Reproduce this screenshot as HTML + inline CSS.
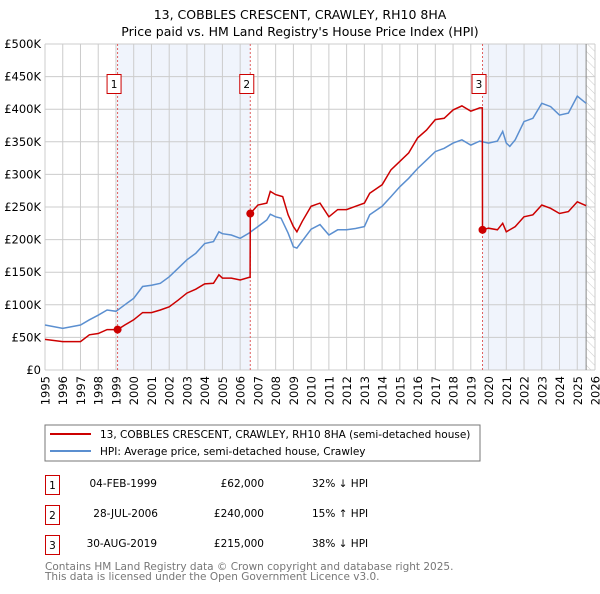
<!DOCTYPE html>
<html><head><meta charset="utf-8"><style>
body{margin:0;background:#fff;width:600px;height:590px;overflow:hidden;font-family:"DejaVu Sans","Liberation Sans",sans-serif}
svg text{font-family:"DejaVu Sans","Liberation Sans",sans-serif}
</style></head><body>
<svg id="chart" width="600" height="590" xmlns="http://www.w3.org/2000/svg">
<text x="300" y="19" text-anchor="middle" font-size="12.5">13, COBBLES CRESCENT, CRAWLEY, RH10 8HA</text>
<text x="300" y="36" text-anchor="middle" font-size="12.5">Price paid vs. HM Land Registry's House Price Index (HPI)</text>
<g id="plot"></g>
<g>
<rect x="45" y="425" width="435" height="36" fill="#fff" stroke="#777"/>
<line x1="50" y1="434" x2="91" y2="434" stroke="#cc0000" stroke-width="2"/>
<text x="100" y="438" font-size="10.5">13, COBBLES CRESCENT, CRAWLEY, RH10 8HA (semi-detached house)</text>
<line x1="50" y1="451" x2="91" y2="451" stroke="#5b8fd0" stroke-width="2"/>
<text x="100" y="455" font-size="10.5">HPI: Average price, semi-detached house, Crawley</text>
</g>
<g font-size="10.5">
<rect x="45.5" y="475.5" width="14" height="19" fill="#fff" stroke="#cc0000"/><text x="52.5" y="489" text-anchor="middle">1</text>
<text x="157" y="487" text-anchor="end">04-FEB-1999</text><text x="264" y="487" text-anchor="end">£62,000</text><text x="312" y="487">32% ↓ HPI</text>
<rect x="45.5" y="505.5" width="14" height="19" fill="#fff" stroke="#cc0000"/><text x="52.5" y="519" text-anchor="middle">2</text>
<text x="158" y="517" text-anchor="end">28-JUL-2006</text><text x="264" y="517" text-anchor="end">£240,000</text><text x="312" y="517">15% ↑ HPI</text>
<rect x="45.5" y="535.5" width="14" height="19" fill="#fff" stroke="#cc0000"/><text x="52.5" y="549" text-anchor="middle">3</text>
<text x="157" y="547" text-anchor="end">30-AUG-2019</text><text x="264" y="547" text-anchor="end">£215,000</text><text x="312" y="547">38% ↓ HPI</text>
</g>
<text x="45" y="570" font-size="10.5" fill="#777">Contains HM Land Registry data © Crown copyright and database right 2025.</text>
<text x="45" y="580" font-size="10.5" fill="#777">This data is licensed under the Open Government Licence v3.0.</text>
</svg>
<script>
const hpiYears=[1995,1996,1997,1997.5,1998,1998.5,1999,1999.5,2000,2000.5,2001,2001.5,2002,2002.5,2003,2003.5,2004,2004.5,2004.8,2005,2005.5,2006,2006.5,2007,2007.5,2007.7,2008,2008.3,2008.7,2009,2009.2,2010,2010.5,2011,2011.5,2012,2012.5,2013,2013.3,2014,2014.5,2015,2015.5,2016,2016.5,2017,2017.5,2018,2018.5,2019,2019.5,2020,2020.5,2020.8,2021,2021.2,2021.5,2022,2022.5,2023,2023.5,2024,2024.5,2025,2025.5];
const hpiValues=[69,64,69,77,84,92,90,100,110,128,130,133,143,156,169,179,194,197,212,209,207,202,210,220,230,239,235,233,210,189,187,216,223,207,215,215,217,220,238,251,266,281,294,309,322,335,340,348,353,345,351,348,351,366,348,343,353,381,386,409,404,391,394,420,409];
const priceYears=[1995,1996,1997,1997.5,1998,1998.5,1999.09,1999.5,2000,2000.5,2001,2001.5,2002,2002.5,2003,2003.5,2004,2004.5,2004.8,2005,2005.5,2006,2006.5,2006.56,2006.57,2007,2007.5,2007.7,2008,2008.4,2008.7,2009,2009.2,2009.5,2010,2010.5,2011,2011.5,2012,2012.5,2013,2013.3,2014,2014.5,2015,2015.5,2016,2016.5,2017,2017.5,2018,2018.5,2019,2019.5,2019.65,2019.66,2020,2020.5,2020.8,2021,2021.5,2022,2022.5,2023,2023.5,2024,2024.5,2025,2025.5];
const priceValues=[47,43.5,43.5,54,56,62,62,69,77,88,88,92,97,107,118,124,132,133,146,141,141,138,142,142,240,253,256,274,269,266,238,220,212,228,251,256,235,246,246,251,256,271,284,307,320,333,356,368,384,386,399,405,397,402,402,215,217.5,215,225,212,220,235,238,253,248,240,243,258,252];
const saleYears=[1999.09,2006.57,2019.66];
const saleValues=[62,240,215];
const saleLabels=["1","2","3"];
const yTicks=[0,50,100,150,200,250,300,350,400,450,500];
const yTickLabels=["£0","£50K","£100K","£150K","£200K","£250K","£300K","£350K","£400K","£450K","£500K"];
const xTicks=[1995,1996,1997,1998,1999,2000,2001,2002,2003,2004,2005,2006,2007,2008,2009,2010,2011,2012,2013,2014,2015,2016,2017,2018,2019,2020,2021,2022,2023,2024,2025,2026];

const L=45,R=595,T=44,B=370,X0=1995,X1=2026,YMAX=500,DATA_END=2025.5;
const xs=y=>L+(y-X0)/(X1-X0)*(R-L);
const ys=v=>B-v/YMAX*(B-T);
const NS="http://www.w3.org/2000/svg";
const g=document.getElementById('plot');
function mk(t,a){const e=document.createElementNS(NS,t);for(const k in a)e.setAttribute(k,a[k]);g.appendChild(e);return e;}
let s=mk('rect',{x:xs(saleYears[0]),y:T,width:xs(saleYears[1])-xs(saleYears[0]),height:B-T,fill:'#f0f4fc'});


s=mk('rect',{x:xs(saleYears[2]),y:T,width:xs(DATA_END)-xs(saleYears[2]),height:B-T,fill:'#f0f4fc'});


const defs=document.createElementNS(NS,'defs');defs.innerHTML='<pattern id="h" width="6" height="6" patternUnits="userSpaceOnUse" patternTransform="rotate(-45)"><line x1="0" y1="0" x2="0" y2="6" stroke="#ccc" stroke-width="1"/></pattern>';g.appendChild(defs);
s=mk('rect',{x:xs(DATA_END),y:T,width:R-xs(DATA_END),height:B-T,fill:'url(#h)'});


yTicks.forEach((v,i)=>{
 const y=ys(v);
 const l=mk('line',{x1:L,x2:R,y1:y,y2:y,stroke:'#ccc','stroke-width':1});
 
 
 const t=mk('text',{x:L-4,y:y+4,'text-anchor':'end','font-size':11.5});t.textContent=yTickLabels[i];
 
 
});
xTicks.forEach(yr=>{
 const x=xs(yr);
 const l=mk('line',{x1:x,x2:x,y1:T,y2:B,stroke:'#ccc','stroke-width':1});
 
 
 const t=mk('text',{x:0,y:0,'text-anchor':'end','font-size':11.5,transform:'translate('+(x+4.5).toFixed(1)+',376) rotate(-90)'});t.textContent=yr;
 
 
});
const ln=mk('line',{x1:xs(DATA_END),x2:xs(DATA_END),y1:T,y2:B,stroke:'#888'});


saleYears.forEach((yr,i)=>{
 const l=mk('line',{x1:xs(yr),x2:xs(yr),y1:T,y2:B,stroke:'#e06060','stroke-dasharray':'2,2','stroke-width':1});
 
 
 const r=mk('rect',{x:xs(yr)-10.5,y:74.5,width:14,height:19,fill:'#fff',stroke:'#cc0000'});
 
 
 const t=mk('text',{x:xs(yr)-3.5,y:88,'text-anchor':'middle','font-size':10.5});t.textContent=saleLabels[i];
 
 
});
function path(xa,va){return xa.map((x,i)=>(i?'L':'M')+xs(x).toFixed(1)+','+ys(va[i]).toFixed(1)).join('');}
const hp=mk('path',{d:path(hpiYears,hpiValues),fill:'none',stroke:'#5b8fd0','stroke-width':1.5});


const pp=mk('path',{d:path(priceYears,priceValues),fill:'none',stroke:'#cc0000','stroke-width':1.5});


saleYears.forEach((yr,i)=>{
 const c=mk('circle',{cx:xs(yr),cy:ys(saleValues[i]),r:4,fill:'#cc0000'});
 
 
});
</script>
</body></html>
